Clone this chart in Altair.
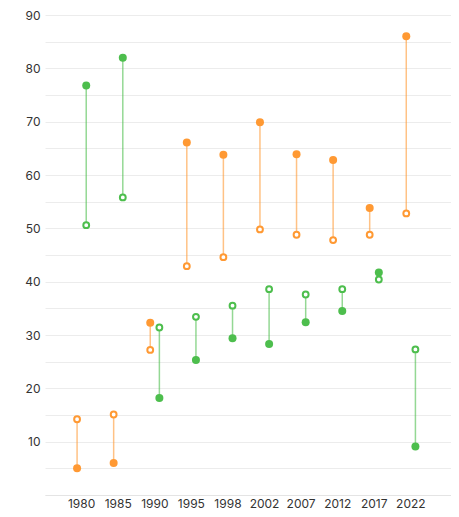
import altair as alt
import pandas as pd

years = ["1980", "1985", "1990", "1995", "1998", "2002", "2007", "2012", "2017", "2022"]
series = ["Series A", "Series B"]
colors = ["#FF9933", "#4DBE4D"]

a_filled = [5.0, 6.0, 32.3, 66.1, 63.8, 69.9, 63.9, 62.8, 53.8, 86.0]
a_open = [14.2, 15.1, 27.2, 42.9, 44.6, 49.8, 48.8, 47.8, 48.8, 52.8]
b_filled = [76.8, 82.0, 18.2, 25.3, 29.4, 28.3, 32.4, 34.5, 41.7, 9.1]
b_open = [50.6, 55.8, 31.4, 33.4, 35.5, 38.6, 37.6, 38.6, 40.4, 27.3]

rows = []
for i, yr in enumerate(years):
    rows.append({"year": yr, "series": series[0], "filled": a_filled[i], "open": a_open[i]})
    rows.append({"year": yr, "series": series[1], "filled": b_filled[i], "open": b_open[i]})
df = pd.DataFrame(rows)

FONT = "Inter"

x = alt.X("year:N", sort=years,
          scale=alt.Scale(paddingInner=0.5, paddingOuter=0.8, align=0.47),
          axis=alt.Axis(title=None, labelAngle=0, ticks=False, domainColor="#e4e4e4",
                        labelPadding=3, labelFontSize=12, labelColor="#333333", labelFont=FONT))
xo = alt.XOffset("series:N", sort=series, scale=alt.Scale(domain=series))
yaxis = alt.Axis(values=list(range(0, 95, 5)),
                 labelExpr="(datum.value % 10 == 0 && datum.value > 0) ? datum.label : ''",
                 title=None, domain=False, ticks=False, gridColor="#ececec",
                 labelPadding=5, labelFontSize=12, labelColor="#333333", labelFont=FONT)
yscale = alt.Scale(domain=[0, 90], nice=False)
cscale = alt.Scale(domain=series, range=colors)

base = alt.Chart(df)

rule = base.mark_rule(strokeWidth=1.5, opacity=0.6).encode(
    x=x, xOffset=xo,
    y=alt.Y("filled:Q", scale=yscale, axis=yaxis),
    y2="open:Q",
    color=alt.Color("series:N", scale=cscale, legend=None),
)
filled = base.mark_circle(size=64, opacity=1).encode(
    x=x, xOffset=xo,
    y=alt.Y("filled:Q", scale=yscale, axis=yaxis),
    color=alt.Color("series:N", scale=cscale, legend=None),
)
opened = base.mark_circle(size=34, opacity=1, fill="white", strokeWidth=2).encode(
    x=x, xOffset=xo,
    y=alt.Y("open:Q", scale=yscale, axis=yaxis),
    stroke=alt.Stroke("series:N", scale=cscale, legend=None),
)

chart = alt.layer(rule, filled, opened).properties(
    width=406, height=480,
    autosize=alt.AutoSizeParams(type="none"),
    padding={"left": 37, "top": 7, "right": 0, "bottom": 14},
).configure_view(stroke=None)

chart.save("out.html", embed_options={"renderer": "svg", "actions": False})
